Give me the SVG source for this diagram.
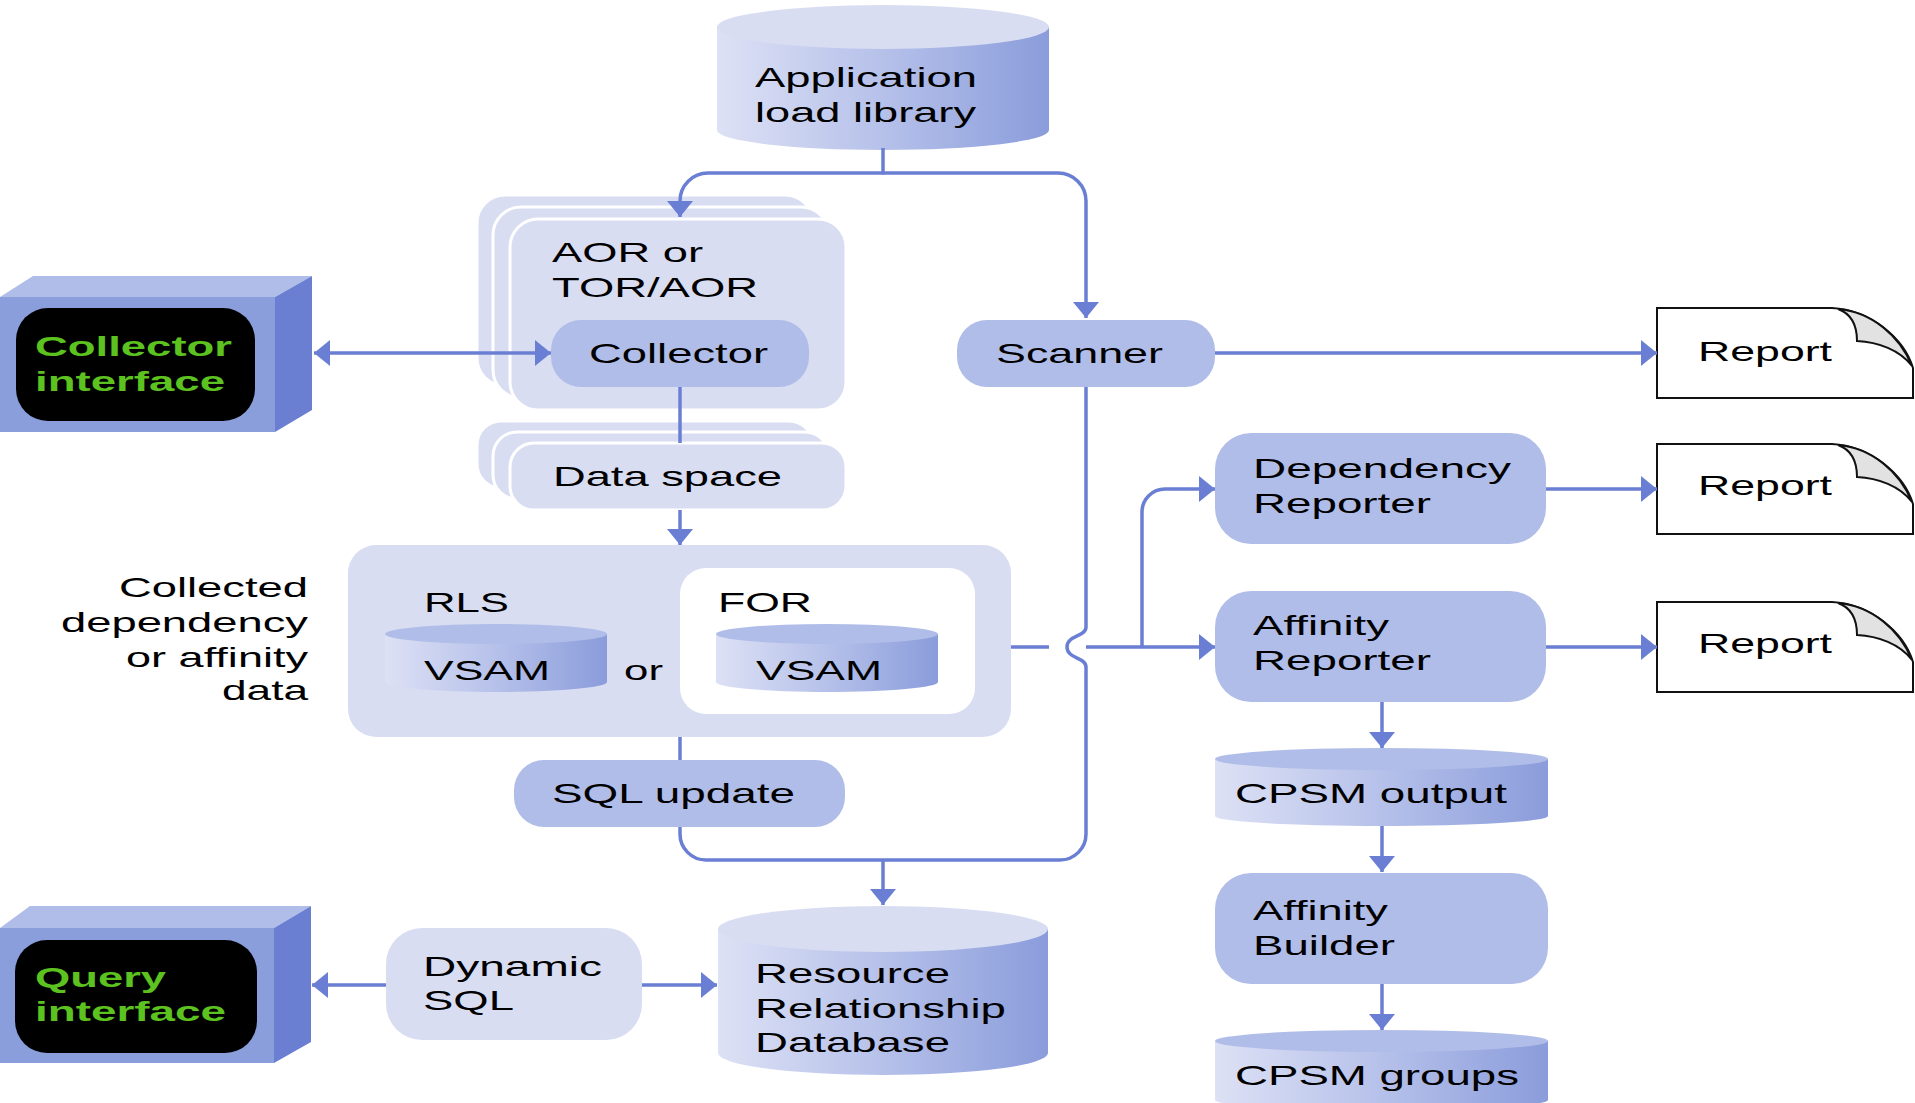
<svg xmlns="http://www.w3.org/2000/svg" width="1915" height="1103" viewBox="0 0 1915 1103">
  <defs>
    <style>
      .t{font-family:"Liberation Sans",Arial,Helvetica,sans-serif;font-size:28px;fill:#000}
      .g{font-family:"Liberation Sans",Arial,Helvetica,sans-serif;font-size:28px;font-weight:bold;fill:#5cc21f}
      .card{fill:#d9ddf2}
      .stack{fill:#d9ddf2;stroke:#fff;stroke-width:3}
      .node{fill:#b0bde8}
      .cylbody{fill:url(#cylGrad)}
      .toplight{fill:#d9ddf2}
      .topmid{fill:#b0bde8}
      .ln{fill:none;stroke:#6a7fd3;stroke-width:3.5}
      .page{fill:#fff;stroke:#111;stroke-width:2}
      .fold{fill:#e2e2e2;stroke:#111;stroke-width:2}
      .box-top{fill:#b0bde8}
      .box-front{fill:#8b9edc}
      .box-side{fill:#6a7fd2}
      .screen{fill:#000}
    </style>
    <linearGradient id="cylGrad" x1="0" y1="0" x2="1" y2="0">
      <stop offset="0" stop-color="#dde1f5"/>
      <stop offset="0.5" stop-color="#b6c1ea"/>
      <stop offset="1" stop-color="#8a9cdb"/>
    </linearGradient>
    <marker id="arr" markerUnits="userSpaceOnUse" markerWidth="18" markerHeight="26" viewBox="0 0 16 26" refX="16" refY="13" orient="auto-start-reverse">
      <path d="M0,0 L16,13 L0,26 Z" fill="#6a7fd3"/>
    </marker>
  </defs>

  <!-- Application load library -->
  <g id="app-library">
    <path class="cylbody" d="M717,27 V130 A166,20 0 0 0 1049,130 V27 Z"/>
    <ellipse class="toplight" cx="883" cy="27" rx="166" ry="22"/>
    <text class="t" x="755" y="87" textLength="222" lengthAdjust="spacingAndGlyphs">Application</text>
    <text class="t" x="755" y="122" textLength="221" lengthAdjust="spacingAndGlyphs">load library</text>
  </g>

  <!-- Collector interface -->
  <g id="collector-interface">
    <polygon class="box-top" points="0,297 33,276 312,276 275,297"/>
    <rect class="box-front" x="0" y="297" width="275" height="135"/>
    <polygon class="box-side" points="275,297 312,276 312,410 275,432"/>
    <rect class="screen" x="16" y="308" width="239" height="113" rx="32"/>
    <text class="g" x="35" y="356" textLength="197" lengthAdjust="spacingAndGlyphs">Collector</text>
    <text class="g" x="35" y="391" textLength="190" lengthAdjust="spacingAndGlyphs">interface</text>
  </g>

  <!-- AOR or TOR/AOR region stack -->
  <g id="aor-region">
    <rect class="stack" x="477" y="195" width="336" height="191" rx="28"/>
    <rect class="stack" x="493" y="207" width="336" height="191" rx="28"/>
    <rect class="stack" x="510" y="219" width="336" height="191" rx="28"/>
    <text class="t" x="552" y="262" textLength="151" lengthAdjust="spacingAndGlyphs">AOR or</text>
    <text class="t" x="552" y="297" textLength="206" lengthAdjust="spacingAndGlyphs">TOR/AOR</text>
  </g>

  <g id="collector">
    <rect class="node" x="551" y="320" width="258" height="67" rx="30"/>
    <text class="t" x="589" y="363" textLength="179" lengthAdjust="spacingAndGlyphs">Collector</text>
  </g>

  <!-- Data space stack -->
  <g id="data-space">
    <rect class="stack" x="477" y="421" width="336" height="67" rx="24"/>
    <rect class="stack" x="493" y="432" width="336" height="67" rx="24"/>
    <rect class="stack" x="510" y="443" width="336" height="67" rx="24"/>
    <text class="t" x="553" y="486" textLength="229" lengthAdjust="spacingAndGlyphs">Data space</text>
  </g>

  <!-- Collected dependency or affinity data -->
  <g id="collected-label">
    <text class="t" x="119" y="597" textLength="189" lengthAdjust="spacingAndGlyphs">Collected</text>
    <text class="t" x="61" y="632" textLength="247" lengthAdjust="spacingAndGlyphs">dependency</text>
    <text class="t" x="126" y="667" textLength="182" lengthAdjust="spacingAndGlyphs">or affinity</text>
    <text class="t" x="222" y="700" textLength="86" lengthAdjust="spacingAndGlyphs">data</text>
  </g>

  <g id="collected-data">
    <rect class="card" x="348" y="545" width="663" height="192" rx="28"/>
    <rect fill="#fff" x="680" y="568" width="295" height="146" rx="26"/>
    <text class="t" x="424" y="612" textLength="85" lengthAdjust="spacingAndGlyphs">RLS</text>
    <text class="t" x="718" y="612" textLength="94" lengthAdjust="spacingAndGlyphs">FOR</text>
    <path class="cylbody" d="M385,634 V682 A111,10 0 0 0 607,682 V634 Z"/>
    <ellipse class="topmid" cx="496" cy="634" rx="111" ry="10"/>
    <text class="t" x="424" y="680" textLength="126" lengthAdjust="spacingAndGlyphs">VSAM</text>
    <text class="t" x="624" y="680" textLength="39" lengthAdjust="spacingAndGlyphs">or</text>
    <path class="cylbody" d="M716,634 V682 A111,10 0 0 0 938,682 V634 Z"/>
    <ellipse class="topmid" cx="827" cy="634" rx="111" ry="10"/>
    <text class="t" x="756" y="680" textLength="126" lengthAdjust="spacingAndGlyphs">VSAM</text>
  </g>

  <g id="sql-update">
    <rect class="node" x="514" y="760" width="331" height="67" rx="30"/>
    <text class="t" x="552" y="803" textLength="243" lengthAdjust="spacingAndGlyphs">SQL update</text>
  </g>

  <g id="scanner">
    <rect class="node" x="957" y="320" width="258" height="67" rx="30"/>
    <text class="t" x="996" y="363" textLength="167" lengthAdjust="spacingAndGlyphs">Scanner</text>
  </g>

  <g id="dependency-reporter">
    <rect class="node" x="1215" y="433" width="331" height="111" rx="36"/>
    <text class="t" x="1253" y="478" textLength="258" lengthAdjust="spacingAndGlyphs">Dependency</text>
    <text class="t" x="1253" y="513" textLength="178" lengthAdjust="spacingAndGlyphs">Reporter</text>
  </g>

  <g id="affinity-reporter">
    <rect class="node" x="1215" y="591" width="331" height="111" rx="36"/>
    <text class="t" x="1253" y="635" textLength="136" lengthAdjust="spacingAndGlyphs">Affinity</text>
    <text class="t" x="1253" y="670" textLength="178" lengthAdjust="spacingAndGlyphs">Reporter</text>
  </g>

  <!-- Report pages -->
  <g id="report-1">
    <path class="page" d="M1657,308 H1832 C1870,310 1904,338 1913,368 V398 H1657 Z"/>
    <path class="fold" d="M1838,309 C1852,314 1857,326 1857,341 C1878,342 1900,350 1912,366 C1900,336 1872,312 1838,309 Z"/>
    <text class="t" x="1698" y="361" textLength="134" lengthAdjust="spacingAndGlyphs">Report</text>
  </g>
  <g id="report-2">
    <path class="page" d="M1657,444 H1832 C1870,446 1904,474 1913,504 V534 H1657 Z"/>
    <path class="fold" d="M1838,445 C1852,450 1857,462 1857,477 C1878,478 1900,486 1912,502 C1900,472 1872,448 1838,445 Z"/>
    <text class="t" x="1698" y="495" textLength="134" lengthAdjust="spacingAndGlyphs">Report</text>
  </g>
  <g id="report-3">
    <path class="page" d="M1657,602 H1832 C1870,604 1904,632 1913,662 V692 H1657 Z"/>
    <path class="fold" d="M1838,603 C1852,608 1857,620 1857,635 C1878,636 1900,644 1912,660 C1900,630 1872,606 1838,603 Z"/>
    <text class="t" x="1698" y="653" textLength="134" lengthAdjust="spacingAndGlyphs">Report</text>
  </g>

  <g id="cpsm-output">
    <path class="cylbody" d="M1215,759 V816 A166.5,10 0 0 0 1548,816 V759 Z"/>
    <ellipse class="topmid" cx="1381.5" cy="759" rx="166.5" ry="11"/>
    <text class="t" x="1235" y="803" textLength="272" lengthAdjust="spacingAndGlyphs">CPSM output</text>
  </g>

  <g id="affinity-builder">
    <rect class="node" x="1215" y="873" width="333" height="111" rx="36"/>
    <text class="t" x="1253" y="920" textLength="135" lengthAdjust="spacingAndGlyphs">Affinity</text>
    <text class="t" x="1253" y="955" textLength="142" lengthAdjust="spacingAndGlyphs">Builder</text>
  </g>

  <g id="cpsm-groups">
    <path class="cylbody" d="M1215,1041 V1100 A166.5,10 0 0 0 1548,1100 V1041 Z"/>
    <ellipse class="topmid" cx="1381.5" cy="1041" rx="166.5" ry="11"/>
    <text class="t" x="1235" y="1085" textLength="284" lengthAdjust="spacingAndGlyphs">CPSM groups</text>
  </g>

  <!-- Query interface -->
  <g id="query-interface">
    <polygon class="box-top" points="0,928 30,906 311,906 274,928"/>
    <rect class="box-front" x="0" y="928" width="274" height="135"/>
    <polygon class="box-side" points="274,928 311,906 311,1042 274,1063"/>
    <rect class="screen" x="15" y="940" width="242" height="113" rx="32"/>
    <text class="g" x="35" y="987" textLength="131" lengthAdjust="spacingAndGlyphs">Query</text>
    <text class="g" x="35" y="1021" textLength="191" lengthAdjust="spacingAndGlyphs">interface</text>
  </g>

  <g id="dynamic-sql">
    <rect class="card" x="386" y="928" width="256" height="112" rx="36"/>
    <text class="t" x="423" y="976" textLength="179" lengthAdjust="spacingAndGlyphs">Dynamic</text>
    <text class="t" x="423" y="1010" textLength="91" lengthAdjust="spacingAndGlyphs">SQL</text>
  </g>

  <g id="resource-relationship-db">
    <path class="cylbody" d="M718,929 V1053 A165,22 0 0 0 1048,1053 V929 Z"/>
    <ellipse class="toplight" cx="883" cy="929" rx="165" ry="23"/>
    <text class="t" x="755" y="983" textLength="195" lengthAdjust="spacingAndGlyphs">Resource</text>
    <text class="t" x="755" y="1018" textLength="251" lengthAdjust="spacingAndGlyphs">Relationship</text>
    <text class="t" x="755" y="1052" textLength="195" lengthAdjust="spacingAndGlyphs">Database</text>
  </g>

  <!-- Connectors -->
  <g id="connectors">
    <path class="ln" d="M883,148 V173"/>
    <path class="ln" d="M884,173 H708 A28,28 0 0 0 680,201 V217" marker-end="url(#arr)"/>
    <path class="ln" d="M882,173 H1058 A28,28 0 0 1 1086,201 V318" marker-end="url(#arr)"/>
    <path class="ln" d="M314,353 H551" marker-start="url(#arr)" marker-end="url(#arr)"/>
    <path class="ln" d="M680,387 V443"/>
    <path class="ln" d="M680,510 V545" marker-end="url(#arr)"/>
    <path class="ln" d="M680,737 V760"/>
    <path class="ln" d="M680,827 V834 A26,26 0 0 0 706,860 H1060 A26,26 0 0 0 1086,834 V667 C1086,657 1067,659 1067,647 C1067,635 1086,637 1086,627 V387"/>
    <path class="ln" d="M883,860 V905" marker-end="url(#arr)"/>
    <path class="ln" d="M1011,647 H1049"/>
    <path class="ln" d="M1086,647 H1215" marker-end="url(#arr)"/>
    <path class="ln" d="M1142,647 V512 A23,23 0 0 1 1165,489 H1215" marker-end="url(#arr)"/>
    <path class="ln" d="M1215,353 H1657" marker-end="url(#arr)"/>
    <path class="ln" d="M1546,489 H1657" marker-end="url(#arr)"/>
    <path class="ln" d="M1546,647 H1657" marker-end="url(#arr)"/>
    <path class="ln" d="M1382,702 V748" marker-end="url(#arr)"/>
    <path class="ln" d="M1382,826 V872" marker-end="url(#arr)"/>
    <path class="ln" d="M1382,984 V1030" marker-end="url(#arr)"/>
    <path class="ln" d="M386,985 H312" marker-end="url(#arr)"/>
    <path class="ln" d="M642,985 H717" marker-end="url(#arr)"/>
  </g>
</svg>
